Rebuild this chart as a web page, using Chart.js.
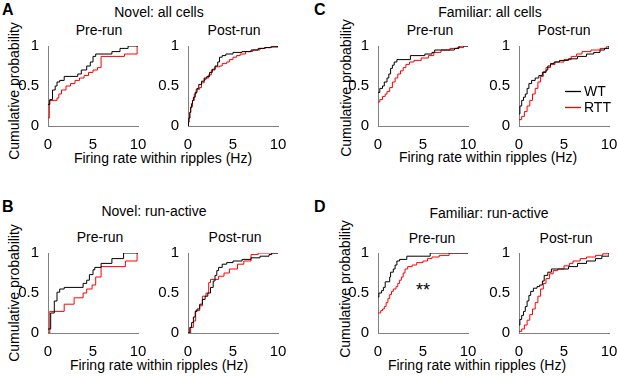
<!DOCTYPE html>
<html>
<head>
<meta charset="utf-8">
<script src="https://cdn.jsdelivr.net/npm/chart.js@4.4.1/dist/chart.umd.min.js"></script>
<style>
body { margin: 0; width: 617px; height: 376px; overflow: hidden; background: #fff; position: relative;
       font-family: 'Liberation Sans', Arial, sans-serif; color: #000; }
.t { position: absolute; transform: translate(-50%, -50%); white-space: nowrap; font-size: 14px; line-height: 1; }
.letter { position: absolute; font-weight: bold; font-size: 16px; line-height: 1; }
.ylab { position: absolute; transform: translate(-50%, -50%) rotate(-90deg); white-space: nowrap; font-size: 14px; line-height: 1; }
canvas { position: absolute; }
</style>
</head>
<body>
<div class="letter" style="left:2px;top:2px">A</div>
<div class="letter" style="left:2px;top:199px">B</div>
<div class="letter" style="left:314px;top:2px">C</div>
<div class="letter" style="left:314px;top:199px">D</div>

<div class="t" style="left:159px;top:12px">Novel: all cells</div>
<div class="t" style="left:490px;top:12px">Familiar: all cells</div>
<div class="t" style="left:154px;top:211px">Novel: run-active</div>
<div class="t" style="left:489px;top:213px">Familiar: run-active</div>

<div class="t" style="left:99px;top:30px">Pre-run</div>
<div class="t" style="left:234px;top:30px">Post-run</div>
<div class="t" style="left:430px;top:30px">Pre-run</div>
<div class="t" style="left:564px;top:30px">Post-run</div>
<div class="t" style="left:100px;top:237px">Pre-run</div>
<div class="t" style="left:235px;top:237px">Post-run</div>
<div class="t" style="left:432px;top:238px">Pre-run</div>
<div class="t" style="left:566px;top:238px">Post-run</div>

<div class="ylab" style="left:14px;top:91px">Cumulative probability</div>
<div class="ylab" style="left:346px;top:88px">Cumulative probability</div>
<div class="ylab" style="left:14px;top:293px">Cumulative probability</div>
<div class="ylab" style="left:345px;top:289px">Cumulative probability</div>

<div class="t" style="left:163px;top:158px">Firing rate within ripples (Hz)</div>
<div class="t" style="left:488px;top:157px">Firing rate within ripples (Hz)</div>
<div class="t" style="left:159px;top:365px">Firing rate within ripples (Hz)</div>
<div class="t" style="left:477px;top:365px">Firing rate within ripples (Hz)</div>

<div class="t" style="left:423px;top:290px;font-size:18px">**</div>

<script>
// step CDF points: [firing rate (Hz), cumulative probability]
const novelAllPreWT = [[0,0.27],[0.2,0.33],[0.5,0.45],[0.8,0.5],[1.0,0.55],[1.3,0.57],[1.8,0.62],[3.3,0.65],[3.7,0.7],[4.3,0.75],[4.7,0.8],[5.0,0.87],[5.3,0.9],[7.1,0.93],[8.0,0.97],[8.9,1],[10,1]];
const novelAllPreRTT = [[0,0.1],[0.15,0.32],[1.0,0.35],[1.2,0.4],[1.5,0.45],[2.0,0.5],[2.5,0.53],[3.0,0.57],[3.5,0.6],[4.0,0.63],[4.5,0.67],[5.0,0.7],[5.5,0.73],[5.9,0.87],[8.5,0.9],[9.9,1],[10,1]];
const novelAllPostWT = [[0,0],[0.05,0.05],[0.1,0.1],[0.2,0.17],[0.3,0.23],[0.4,0.28],[0.5,0.32],[0.6,0.36],[0.8,0.42],[1.0,0.47],[1.2,0.52],[1.5,0.56],[1.8,0.6],[2.1,0.62],[2.4,0.67],[2.7,0.71],[3.0,0.75],[3.3,0.8],[3.5,0.86],[3.8,0.88],[4.2,0.9],[5.0,0.92],[6.0,0.93],[7.0,0.95],[7.8,0.97],[8.5,0.98],[9.2,0.99],[10,1]];
const novelAllPostRTT = [[0,0],[0.05,0.04],[0.1,0.1],[0.2,0.17],[0.3,0.24],[0.5,0.32],[0.7,0.4],[0.9,0.46],[1.3,0.48],[1.5,0.54],[1.8,0.58],[2.0,0.6],[2.3,0.64],[2.6,0.7],[3.0,0.74],[3.5,0.75],[3.8,0.78],[4.3,0.8],[4.6,0.83],[5.0,0.86],[5.4,0.88],[5.8,0.9],[6.4,0.93],[7.2,0.95],[8.0,0.97],[8.6,0.98],[9.3,0.99],[10,1]];

const novelActivePreWT = [[0,0.05],[0.3,0.25],[0.7,0.4],[1.0,0.51],[1.3,0.55],[1.8,0.57],[3.9,0.62],[4.3,0.66],[4.6,0.73],[5.0,0.79],[5.2,0.82],[5.9,0.87],[7.1,0.93],[8.4,1],[10,1]];
const novelActivePreRTT = [[0,0],[0.2,0.27],[1.8,0.36],[2.9,0.44],[3.9,0.5],[4.3,0.55],[4.9,0.6],[5.3,0.7],[5.9,0.83],[8.6,0.9],[9.9,1],[10,1]];
const novelActivePostWT = [[0,0],[0.2,0.07],[0.4,0.13],[0.6,0.2],[0.8,0.27],[1.0,0.3],[1.3,0.36],[1.6,0.42],[1.9,0.46],[2.2,0.5],[2.5,0.57],[2.8,0.65],[3.0,0.72],[3.2,0.78],[3.4,0.82],[3.8,0.86],[4.3,0.88],[5.0,0.9],[6.0,0.92],[7.0,0.94],[8.0,0.96],[9.0,0.98],[9.3,1],[10,1]];
const novelActivePostRTT = [[0,0],[0.3,0.07],[0.6,0.15],[0.85,0.28],[1.3,0.34],[1.6,0.46],[2.0,0.5],[2.3,0.63],[2.5,0.67],[3.4,0.71],[4.0,0.75],[4.6,0.8],[5.5,0.86],[6.2,0.9],[7.0,0.98],[7.8,1],[10,1]];

const familiarAllPreWT = [[0,0.42],[0.2,0.47],[0.5,0.5],[0.7,0.55],[1.0,0.6],[1.2,0.65],[1.4,0.72],[1.6,0.76],[1.8,0.8],[2.1,0.83],[3.6,0.88],[5.2,0.9],[6.0,0.92],[6.3,0.95],[8.5,0.97],[9.0,1],[10,1]];
const familiarAllPreRTT = [[0,0.3],[0.2,0.33],[0.5,0.37],[0.8,0.4],[1.0,0.43],[1.3,0.48],[1.6,0.55],[1.9,0.6],[2.2,0.65],[2.5,0.69],[2.8,0.73],[3.1,0.77],[3.5,0.8],[4.0,0.82],[4.8,0.85],[5.6,0.88],[6.2,0.92],[7.0,0.95],[8.0,0.97],[8.8,0.98],[9.5,1],[10,1]];
const familiarAllPostWT = [[0,0.15],[0.1,0.25],[0.3,0.32],[0.5,0.36],[0.7,0.4],[0.9,0.47],[1.1,0.53],[1.4,0.57],[1.8,0.6],[2.2,0.63],[2.6,0.67],[3.0,0.7],[3.2,0.75],[3.5,0.78],[3.9,0.8],[4.5,0.82],[5.5,0.84],[6.5,0.87],[7.5,0.9],[8.3,0.92],[9.0,0.95],[9.5,0.97],[10,1]];
const familiarAllPostRTT = [[0,0.08],[0.3,0.12],[0.6,0.18],[0.9,0.25],[1.2,0.32],[1.5,0.4],[1.8,0.47],[2.1,0.55],[2.4,0.62],[2.7,0.68],[3.0,0.73],[3.5,0.77],[4.0,0.8],[5.0,0.83],[5.8,0.87],[6.4,0.9],[7.0,0.93],[8.0,0.95],[9.0,0.97],[9.7,0.99],[10,1]];

const familiarActivePreWT = [[0,0.45],[0.1,0.5],[0.4,0.53],[0.6,0.57],[0.8,0.64],[1.3,0.7],[1.4,0.76],[1.7,0.8],[1.9,0.85],[2.1,0.9],[2.4,0.92],[3.2,0.96],[5.8,1],[10,1]];
const familiarActivePreRTT = [[0,0.25],[0.3,0.28],[0.5,0.3],[0.7,0.33],[0.9,0.38],[1.1,0.43],[1.3,0.48],[1.5,0.52],[1.7,0.55],[2.0,0.58],[2.2,0.62],[2.4,0.66],[2.6,0.7],[2.8,0.75],[3.0,0.8],[3.3,0.83],[3.8,0.85],[4.3,0.88],[5.0,0.9],[5.5,0.93],[6.0,0.95],[6.8,0.97],[7.9,1],[10,1]];
const familiarActivePostWT = [[0,0.1],[0.1,0.17],[0.3,0.22],[0.5,0.27],[0.7,0.33],[0.9,0.4],[1.1,0.47],[1.3,0.52],[1.6,0.56],[2.0,0.58],[2.3,0.6],[2.6,0.65],[2.8,0.72],[3.2,0.76],[3.6,0.8],[4.6,0.8],[5.5,0.83],[6.5,0.87],[7.5,0.9],[8.5,0.93],[9.2,0.96],[10,1]];
const familiarActivePostRTT = [[0,0.02],[0.3,0.05],[0.6,0.1],[0.9,0.16],[1.2,0.23],[1.5,0.3],[1.8,0.38],[2.1,0.46],[2.4,0.55],[2.7,0.62],[3.0,0.68],[3.4,0.74],[3.8,0.78],[4.3,0.8],[5.0,0.84],[5.6,0.87],[6.0,0.9],[6.8,0.93],[7.5,0.95],[8.5,0.97],[9.3,0.99],[10,1]];

const xTicks = [0, 5, 10];
const yTicks = [0, 0.5, 1];
const groupNames = ['WT', 'RTT'];
const groupColors = ['#000000', '#ff0000'];

Chart.defaults.font.family = "'Liberation Sans', Arial, sans-serif";
Chart.defaults.color = '#000';

// plot box of each small axes (left, top of the plotting area), all 90 x 80 px
const PW = 90, PH = 80, PADL = 30, PADT = 12, PADR = 12, PADB = 30;

const legendInside = {
    id: 'legendInside',
    afterDraw(chart, args, opts) {
        if (!opts.show) return;
        const ctx = chart.ctx;
        const a = chart.chartArea;
        ctx.save();
        ctx.font = "14px 'Liberation Sans', Arial, sans-serif";
        ctx.textBaseline = 'middle';
        chart.data.datasets.forEach(function(ds, i) {
            const y = a.top + 45 + i * 16;
            ctx.strokeStyle = ds.borderColor;
            ctx.lineWidth = 1.3;
            ctx.beginPath();
            ctx.moveTo(a.left + 46, y + 0.5);
            ctx.lineTo(a.left + 62, y + 0.5);
            ctx.stroke();
            ctx.fillStyle = '#000';
            ctx.fillText(ds.label, a.left + 65, y + 1);
        });
        ctx.restore();
    }
};

function make_plot(left, top, wt, rtt, showLegend) {
    const canvas = document.createElement('canvas');
    canvas.width = PADL + PW + PADR;
    canvas.height = PADT + PH + PADB;
    canvas.style.left = (left - PADL) + 'px';
    canvas.style.top = (top - PADT) + 'px';
    document.body.appendChild(canvas);
    const series = [wt, rtt];
    const datasets = [];
    for (let i = 0; i < series.length; i++) {
        datasets.push({
            label: groupNames[i],
            data: series[i].map(p => ({x: p[0], y: p[1]})),
            stepped: 'before',
            borderColor: groupColors[i],
            borderWidth: 1,
            pointRadius: 0,
            fill: false
        });
    }
    return new Chart(canvas.getContext('2d'), {
        type: 'line',
        data: {datasets: datasets},
        plugins: [legendInside],
        options: {
            responsive: false,
            animation: false,
            layout: {padding: {top: PADT, right: PADR, left: 0, bottom: 0}, autoPadding: false},
            plugins: {legend: {display: false}, tooltip: {enabled: false}, legendInside: {show: showLegend}},
            scales: {
                x: {
                    type: 'linear', min: 0, max: 10,
                    afterBuildTicks: s => { s.ticks = xTicks.map(v => ({value: v})); },
                    afterFit: s => { s.height = PADB; },
                    grid: {display: false},
                    border: {color: '#808080', width: 1},
                    ticks: {font: {size: 15}, padding: 2, maxRotation: 0, callback: v => String(v)}
                },
                y: {
                    type: 'linear', min: 0, max: 1,
                    afterBuildTicks: s => { s.ticks = yTicks.map(v => ({value: v})); },
                    afterFit: s => { s.width = PADL; },
                    grid: {display: false},
                    border: {color: '#808080', width: 1},
                    ticks: {font: {size: 15}, padding: 1, callback: v => String(v)}
                }
            }
        }
    });
}

make_plot(48, 46, novelAllPreWT, novelAllPreRTT, false);
make_plot(188, 46, novelAllPostWT, novelAllPostRTT, false);
make_plot(378, 46, familiarAllPreWT, familiarAllPreRTT, false);
make_plot(519, 46, familiarAllPostWT, familiarAllPostRTT, true);
make_plot(48, 253, novelActivePreWT, novelActivePreRTT, false);
make_plot(188, 253, novelActivePostWT, novelActivePostRTT, false);
make_plot(378, 253, familiarActivePreWT, familiarActivePreRTT, false);
make_plot(519, 253, familiarActivePostWT, familiarActivePostRTT, false);
</script>
</body>
</html>
